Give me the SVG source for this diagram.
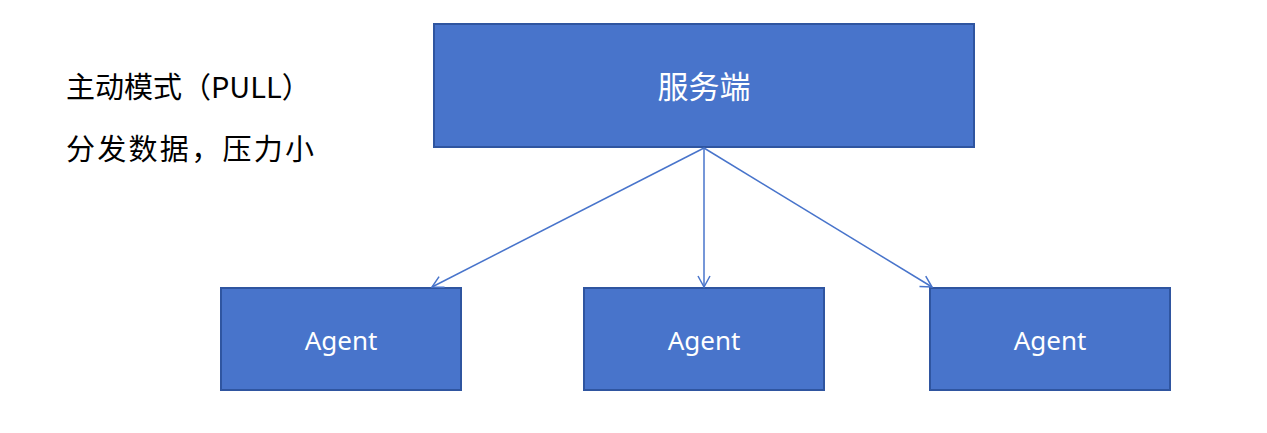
<svg xmlns="http://www.w3.org/2000/svg" width="1267" height="433" viewBox="0 0 1267 433">
<style>
.box{fill:#4874CB;stroke:#2F55A0;stroke-width:2}
.lbl{fill:#fff;font-family:"Noto Sans","Noto Sans CJK SC",sans-serif;text-anchor:middle;dominant-baseline:central}
.note{fill:#000;font-family:"Noto Sans CJK SC",sans-serif;font-size:29px}
.conn{stroke:#4874CB;stroke-width:1.5;fill:none}
</style>
<defs>
<marker id="arr" markerWidth="14" markerHeight="14" refX="12" refY="7" orient="auto" markerUnits="userSpaceOnUse">
<path d="M1,1 L12,7 L1,13" fill="none" stroke="#4874CB" stroke-width="1.5"/>
</marker>
</defs>
<rect width="1267" height="433" fill="#fff"/>
<text class="note" x="66" y="98">主动模式（PULL）</text>
<text class="note" x="66" y="160" textLength="248" lengthAdjust="spacing">分发数据，压力小</text>
<g id="server">
<rect class="box" x="434" y="24" width="540" height="123"/>
<text class="lbl" x="704" y="86" font-size="31">服务端</text>
</g>
<g id="agent1">
<rect class="box" x="221" y="288" width="240" height="102"/>
<text class="lbl" x="341" y="340" font-size="26">Agent</text>
</g>
<g id="agent2">
<rect class="box" x="584" y="288" width="240" height="102"/>
<text class="lbl" x="704" y="340" font-size="26">Agent</text>
</g>
<g id="agent3">
<rect class="box" x="930" y="288" width="240" height="102"/>
<text class="lbl" x="1050" y="340" font-size="26">Agent</text>
</g>
<g id="connectors">
<line class="conn" x1="704" y1="148" x2="432" y2="287" marker-end="url(#arr)"/>
<line class="conn" x1="704" y1="148" x2="704" y2="287" marker-end="url(#arr)"/>
<line class="conn" x1="704" y1="148" x2="932" y2="287" marker-end="url(#arr)"/>
</g>
</svg>
